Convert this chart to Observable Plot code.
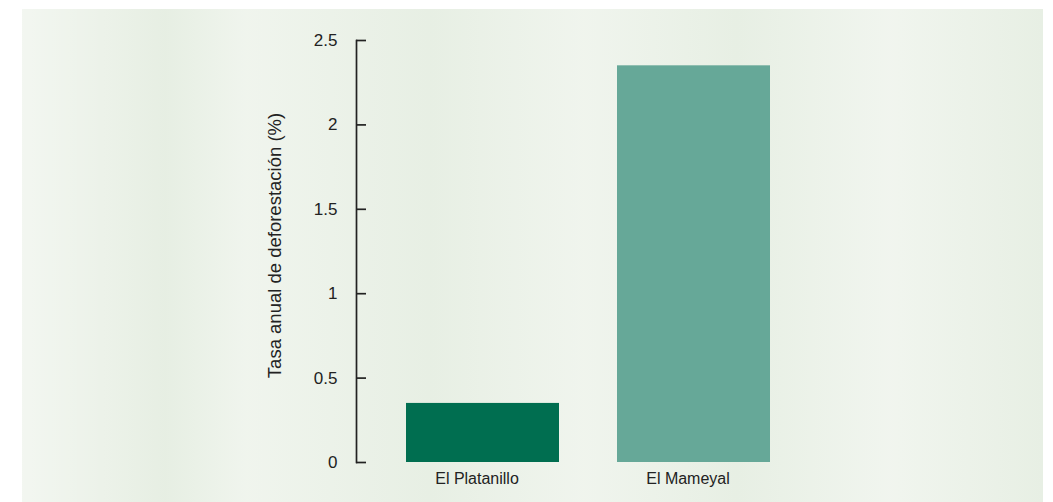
<!DOCTYPE html>
<html>
<head>
<meta charset="utf-8">
<script src="https://cdn.jsdelivr.net/npm/d3@7"></script>
<script src="https://cdn.jsdelivr.net/npm/@observablehq/plot@0.6"></script>
<style>
  html, body { margin: 0; padding: 0; background: #ffffff; }
  #wrap { position: relative; width: 1053px; height: 502px; overflow: hidden; }
  #bg {
    position: absolute; left: 22px; top: 9px; width: 1021px; height: 493px;
    background:
      linear-gradient(90deg, rgba(255,255,255,0.35) 0%, rgba(255,255,255,0) 8%, rgba(220,232,216,0.35) 14%, rgba(255,255,255,0.2) 22%, rgba(220,232,216,0.3) 40%, rgba(255,255,255,0.2) 55%, rgba(220,232,216,0.3) 70%, rgba(255,255,255,0.25) 85%, rgba(220,232,216,0.3) 100%),
      #ecf2e9;
  }
  #chart { position: absolute; left: 0; top: 0; }
</style>
</head>
<body>
<div id="wrap"><div id="bg"></div><div id="chart"></div></div>
<script>
const categories = ["El Platanillo", "El Mameyal"];
const values = [0.35, 2.35];
const colors = ["#006e50", "#66a898"];
const yTicks = [0, 0.5, 1, 1.5, 2, 2.5];
const yLabel = "Tasa anual de deforestación (%)";

const data = categories.map((c, i) => ({category: c, value: values[i], color: colors[i]}));

const chart = Plot.plot({
  width: 1053,
  height: 502,
  marginLeft: 356,
  marginRight: 233,
  marginTop: 40,
  marginBottom: 40,
  style: {background: "transparent", fontFamily: "'Liberation Sans', Arial, Helvetica, sans-serif", color: "#222"},
  x: {domain: categories, paddingInner: 0.275, paddingOuter: 0.237, align: 0.5},
  y: {domain: [0, 2.5]},
  marks: [
    Plot.barY(data, {x: "category", y: "value", fill: "color"}),
    Plot.frame({anchor: "left", stroke: "#222", strokeWidth: 1.7}),
    Plot.axisY(yTicks, {anchor: "left", tickSize: 10, dx: 10, text: null, label: null, stroke: "#222", strokeWidth: 1.7}),
    Plot.axisY(yTicks, {anchor: "left", tickSize: 0, tickPadding: 19, fontSize: 17, fill: "#222",
      tickFormat: d => String(d), label: null}),
    Plot.axisX({anchor: "bottom", tickSize: 0, tickPadding: 10, dx: -6, fontSize: 16, fill: "#222", label: null}),
    Plot.text([yLabel], {frameAnchor: "left", rotate: -90, textAnchor: "middle", lineAnchor: "bottom",
      dx: -76, dy: -6, fontSize: 18.5, fill: "#222"})
  ]
});
document.getElementById("chart").appendChild(chart);
</script>
</body>
</html>
